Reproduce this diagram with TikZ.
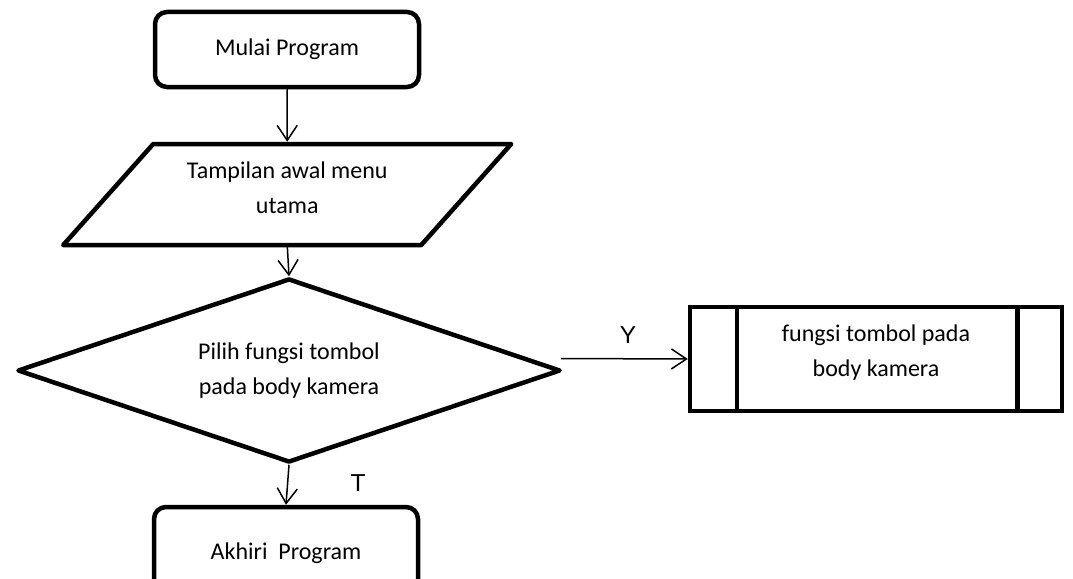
\documentclass[tikz,border=0pt]{standalone}
\usepackage{fontspec}
\setmainfont{Carlito}
\newfontfamily\labelfont{Liberation Sans}
\usetikzlibrary{shapes.geometric,arrows.meta,calc}
\begin{document}
\begin{tikzpicture}[x=1pt,y=-1pt,
  shapeline/.style={line width=4.5pt,line join=round},
  txt/.style={font=\fontsize{24}{35}\selectfont,align=center,inner sep=0pt},
  terminal/.style={shapeline,draw,rounded corners=12pt,minimum width=264pt,minimum height=75pt,inner sep=0pt,txt},
  iobox/.style={inner sep=0pt,outer sep=0pt,minimum width=358pt,minimum height=101pt},
  decision/.style={shapeline,draw,diamond,aspect=3,inner sep=0pt,minimum width=543pt,minimum height=184pt,txt},
  procbox/.style={shapeline,line join=miter,draw,minimum width=372pt,minimum height=104pt,inner sep=0pt},
  flow/.style={line width=1.5pt,-{Straight Barb[length=15pt,width=20pt,line width=1.5pt]}},
  branch/.style={font=\labelfont\fontsize{24.5}{29}\selectfont,inner sep=0pt}
]
\useasboundingbox (0,0) rectangle (1073,578);

% start / end terminals
\node[terminal] (start) at (287,49.5) {Mulai Program};
\node[terminal,minimum height=93pt] (stop) at (286,553.5) {Akhiri\ \ Program};

% input/output parallelogram with its text set a little above the middle
\node[iobox] (io) at (287.25,194.5) {};
\draw[shapeline] ([xshift=45pt]io.north west) -- ([xshift=45pt]io.north east)
  -- ([xshift=-45pt]io.south east) -- ([xshift=-45pt]io.south west) -- cycle;
\node[txt] (iotext) at ([yshift=7pt]io.center) {Tampilan awal menu\\utama};

% decision
\node[decision] (dec) at (289,370.5) {Pilih fungsi tombol\\pada body kamera};

% predefined process
\node[procbox] (fn) at (876,359) {};
\draw[shapeline] ([xshift=49pt]fn.north west) -- ([xshift=49pt]fn.south west);
\draw[shapeline] ([xshift=-47pt]fn.north east) -- ([xshift=-47pt]fn.south east);
\node[txt] (fntext) at ([yshift=6pt]fn.center) {fungsi tombol pada\\body kamera};

% connectors
\draw[flow] (start.south) -- ([yshift=2.25pt]io.north);
\draw[flow] (io.south) -- (dec.north);
\draw[flow] ([xshift=-2pt,yshift=12pt]dec.east) -- (fn.west);
\draw[flow] (dec.south) -- (stop.north);

% branch labels
\node[branch] (ylab) at (628,335) {Y};
\node[branch] (tlab) at (358,483) {T};
\end{tikzpicture}
\end{document}
